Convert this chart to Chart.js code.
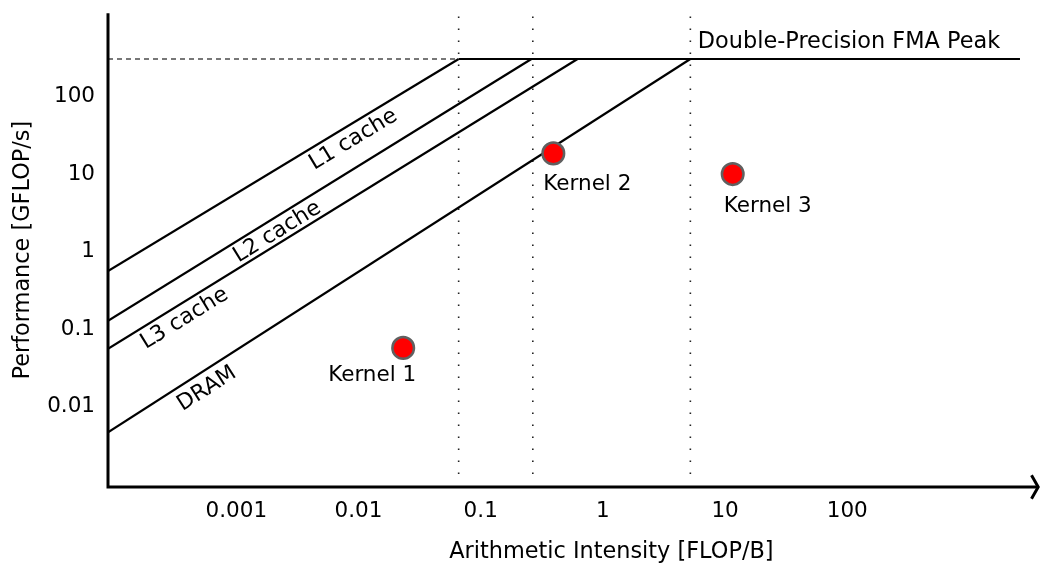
<!DOCTYPE html>
<html><head><meta charset="utf-8">
<script src="https://cdn.jsdelivr.net/npm/chart.js@4.4.0/dist/chart.umd.min.js"></script>
<style>html,body{margin:0;padding:0;background:#fff}#wrap{width:1040px;height:567px}</style>
</head><body><div id="wrap"><canvas id="c" width="1040" height="567"></canvas></div>
<script>
// ---- data ----
const xTicks = [0.001, 0.01, 0.1, 1, 10, 100];
const yTicks = [0.01, 0.1, 1, 10, 100];
const xRange = [8.9e-5, 2944];
const yRange = [0.00092, 1186];
const roofNames = ['L1 cache', 'L2 cache', 'L3 cache', 'DRAM'];
const roofStartPerf = [0.562, 0.1285, 0.0556, 0.00466];   // GFLOP/s at left edge
const ridgeAI = [0.066, 0.26, 0.62, 5.2];                 // FLOP/B where roof meets peak
const peakPerf = 305;
const peakEndAI = 2594;
const peakLabel = 'Double-Precision FMA Peak';
const kernelNames = ['Kernel 1', 'Kernel 2', 'Kernel 3'];
const kernelAI = [0.0232, 0.393, 11.55];
const kernelPerf = [0.0573, 18.5, 10.0];
const dottedAI = [0.066, 0.267, 5.2];
const dottedSpan = [0.0013, 1080];
const xTitle = 'Arithmetic Intensity [FLOP/B]';
const yTitle = 'Performance [GFLOP/s]';

// ---- styles / label placement ----
const FONT = "'DejaVu Sans', sans-serif";
const roofLabelFrac = [0.70, 0.40, 0.163, 0.17];
const roofLabelGap = [17, 16, 17, 20];
const kernelLabelOffset = [[-31, 28], [34, 31], [35, 32]];

Chart.defaults.font.family = FONT;
Chart.defaults.color = '#000';

const datasets = [];
datasets.push({
  label: 'kernels',
  data: kernelAI.map((x, i) => ({x: x, y: kernelPerf[i]})),
  showLine: false,
  pointRadius: 10.8,
  pointBackgroundColor: '#ff0000',
  pointBorderColor: '#606060',
  pointBorderWidth: 2.5
});
roofNames.forEach((n, i) => {
  datasets.push({
    label: n,
    data: [{x: xRange[0], y: roofStartPerf[i]}, {x: ridgeAI[i], y: peakPerf}],
    showLine: true, borderColor: '#000', borderWidth: 2.2, pointRadius: 0
  });
});
datasets.push({
  label: 'peak',
  data: [{x: ridgeAI[0], y: peakPerf}, {x: peakEndAI, y: peakPerf}],
  showLine: true, borderColor: '#000', borderWidth: 2.2, pointRadius: 0
});
datasets.push({
  label: 'peak-dashed',
  data: [{x: xRange[0], y: peakPerf}, {x: ridgeAI[0], y: peakPerf}],
  showLine: true, borderColor: '#777', borderWidth: 2, borderDash: [5, 4], pointRadius: 0
});
dottedAI.forEach((d, i) => {
  datasets.push({
    label: 'dot' + i,
    data: [{x: d, y: dottedSpan[1]}, {x: d, y: dottedSpan[0]}],
    showLine: true, borderColor: '#222', borderWidth: 1.6, borderDash: [1.6, 10.4], pointRadius: 0
  });
});

const decor = {
  id: 'decor',
  afterDatasetsDraw(chart) {
    const ctx = chart.ctx, a = chart.chartArea;
    ctx.save();
    ctx.strokeStyle = '#000';
    ctx.lineWidth = 3;
    ctx.lineJoin = 'miter';
    ctx.beginPath();
    ctx.moveTo(a.left, a.top);
    ctx.lineTo(a.left, a.bottom + 1.5);
    ctx.moveTo(a.left - 1.5, a.bottom);
    ctx.lineTo(1038, a.bottom);
    ctx.stroke();
    ctx.beginPath();
    ctx.moveTo(1031.5, a.bottom - 11.7);
    ctx.lineTo(1038.2, a.bottom);
    ctx.lineTo(1031.5, a.bottom + 11.7);
    ctx.stroke();
    ctx.restore();
  },
  afterDraw(chart) {
    const ctx = chart.ctx, a = chart.chartArea;
    const xs = chart.scales.x, ys = chart.scales.y;
    ctx.save();
    ctx.fillStyle = '#000';
    // roofline labels
    ctx.font = '22px ' + FONT;
    ctx.textAlign = 'center';
    ctx.textBaseline = 'middle';
    roofNames.forEach((n, i) => {
      const x0 = xs.getPixelForValue(xRange[0]), y0 = ys.getPixelForValue(roofStartPerf[i]);
      const x1 = xs.getPixelForValue(ridgeAI[i]), y1 = ys.getPixelForValue(peakPerf);
      const ang = Math.atan2(y1 - y0, x1 - x0);
      const cx = x0 + (x1 - x0) * roofLabelFrac[i];
      const cy = y0 + (y1 - y0) * roofLabelFrac[i] + roofLabelGap[i];
      ctx.save();
      ctx.translate(cx, cy);
      ctx.rotate(ang);
      ctx.fillText(n, 0, 0);
      ctx.restore();
    });
    // kernel labels
    ctx.font = '21.5px ' + FONT;
    kernelNames.forEach((n, i) => {
      const px = xs.getPixelForValue(kernelAI[i]), py = ys.getPixelForValue(kernelPerf[i]);
      ctx.fillText(n, px + kernelLabelOffset[i][0], py + kernelLabelOffset[i][1]);
    });
    // peak label
    ctx.font = '22.4px ' + FONT;
    ctx.textAlign = 'left';
    ctx.fillText(peakLabel, xs.getPixelForValue(ridgeAI[3]) + 7.5, ys.getPixelForValue(peakPerf) - 16.5);
    // x title
    ctx.textAlign = 'center';
    ctx.fillText(xTitle, (a.left + a.right) / 2 + 44, 552);
    ctx.restore();
  }
};

new Chart(document.getElementById('c'), {
  type: 'scatter',
  data: {datasets: datasets},
  plugins: [decor],
  options: {
    responsive: false,
    animation: false,
    layout: {padding: {top: 10, right: 5, left: 0, bottom: 0}},
    plugins: {legend: {display: false}, tooltip: {enabled: false}},
    scales: {
      x: {
        type: 'logarithmic', min: xRange[0], max: xRange[1], bounds: 'data',
        grid: {display: false, drawTicks: false},
        border: {display: false},
        afterBuildTicks: s => { s.ticks = xTicks.map(v => ({value: v})); },
        afterFit: s => { s.height = 80; s.paddingLeft = 0; s.paddingRight = 0; s.paddingTop = 0; s.paddingBottom = 0; },
        ticks: {autoSkip: false, maxRotation: 0, padding: 12, color: '#000',
                font: {size: 21.5}, callback: v => String(v)}
      },
      y: {
        type: 'logarithmic', min: yRange[0], max: yRange[1], bounds: 'data',
        grid: {display: false, drawTicks: false},
        border: {display: false},
        afterBuildTicks: s => { s.ticks = yTicks.map(v => ({value: v})); },
        afterFit: s => { s.width = 108; s.paddingLeft = 0; s.paddingRight = 0; s.paddingTop = 0; s.paddingBottom = 0; },
        ticks: {autoSkip: false, padding: 13, color: '#000',
                font: {size: 21.5}, callback: v => String(v)},
        title: {display: true, text: yTitle, color: '#000', font: {size: 22.4},
                padding: {top: 10, bottom: 0}}
      }
    }
  }
});
</script>
</body></html>
